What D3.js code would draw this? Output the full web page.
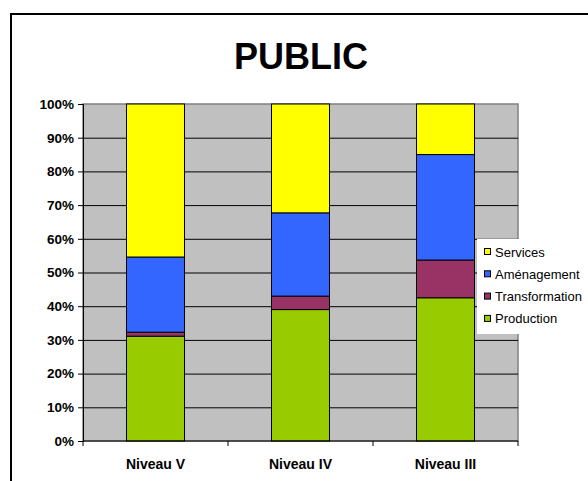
<!DOCTYPE html>
<html>
<head>
<meta charset="utf-8">
<script src="https://cdn.jsdelivr.net/npm/d3@7"></script>
<style>
  body { margin: 0; background: #fff; }
  text { font-family: "Liberation Sans", Arial, sans-serif; }
</style>
</head>
<body>
<svg id="chart" width="588" height="481"></svg>
<script>
// Data (share of each sector, in %)
const categories = ["Niveau V", "Niveau IV", "Niveau III"];
const seriesNames = ["Production", "Transformation", "Aménagement", "Services"];
const production     = [31.1, 39.0, 42.5];
const transformation = [1.2, 4.0, 11.2];
const amenagement    = [22.3, 24.7, 31.3];
const services       = [45.4, 32.3, 15.0];
const tickLabels = ["0%", "10%", "20%", "30%", "40%", "50%", "60%", "70%", "80%", "90%", "100%"];

const colors = {
  "Production": "#99cc00",
  "Transformation": "#993366",
  "Aménagement": "#3366ff",
  "Services": "#ffff00"
};

const rows = categories.map((c, i) => ({
  cat: c,
  "Production": production[i],
  "Transformation": transformation[i],
  "Aménagement": amenagement[i],
  "Services": services[i]
}));

const svg = d3.select("#chart");
const plot = { left: 83, right: 518, top: 104, bottom: 441 };

// outer chart frame (cropped on right and bottom)
svg.append("rect")
  .attr("x", 11).attr("y", 14)
  .attr("width", 600).attr("height", 500)
  .attr("fill", "#fff")
  .attr("stroke", "#000")
  .attr("stroke-width", 2);

svg.append("text")
  .attr("x", 301).attr("y", 69)
  .attr("text-anchor", "middle")
  .attr("font-size", 36)
  .attr("font-weight", "bold")
  .text("PUBLIC");

const x = d3.scaleBand()
  .domain(categories)
  .range([plot.left, plot.right])
  .paddingInner(0.6)
  .paddingOuter(0.3);

const y = d3.scaleLinear()
  .domain([0, 100])
  .range([plot.bottom, plot.top]);

// plot background
svg.append("rect")
  .attr("x", plot.left).attr("y", plot.top)
  .attr("width", plot.right - plot.left)
  .attr("height", plot.bottom - plot.top)
  .attr("fill", "#c0c0c0")
  .attr("stroke", "#808080")
  .attr("stroke-width", 1.5);

// gridlines
svg.append("g")
  .selectAll("line")
  .data(d3.range(10, 100, 10))
  .join("line")
  .attr("x1", plot.left).attr("x2", plot.right)
  .attr("y1", d => y(d) + 0.5).attr("y2", d => y(d) + 0.5)
  .attr("stroke", "#000")
  .attr("stroke-width", 1);

// stacked bars
const stack = d3.stack().keys(seriesNames);
const layers = stack(rows);

svg.append("g")
  .selectAll("g")
  .data(layers)
  .join("g")
  .attr("fill", d => colors[d.key])
  .selectAll("rect")
  .data(d => d)
  .join("rect")
  .attr("x", d => x(d.data.cat))
  .attr("width", x.bandwidth())
  .attr("y", d => y(d[1]))
  .attr("height", d => y(d[0]) - y(d[1]))
  .attr("stroke", "#000")
  .attr("stroke-width", 1);

// y axis
const yAxis = d3.axisLeft(y)
  .tickValues(d3.range(0, 101, 10))
  .tickFormat((d, i) => tickLabels[i])
  .tickSize(5)
  .tickPadding(4);

const gy = svg.append("g")
  .attr("transform", `translate(${plot.left},0)`)
  .call(yAxis);
gy.select(".domain").attr("stroke", "#000");
gy.selectAll("text")
  .attr("font-size", 13.5)
  .attr("font-weight", "bold")
  .attr("fill", "#000")
  .style("font-family", '"Liberation Sans", Arial, sans-serif');

// x axis: ticks at band boundaries
const bounds = d3.range(0, categories.length + 1).map(i => plot.left + i * (plot.right - plot.left) / categories.length);
const gx = svg.append("g");
gx.append("line")
  .attr("x1", plot.left).attr("x2", plot.right)
  .attr("y1", plot.bottom).attr("y2", plot.bottom)
  .attr("stroke", "#000");
gx.selectAll("line.tick")
  .data(bounds)
  .join("line")
  .attr("class", "tick")
  .attr("x1", d => d).attr("x2", d => d)
  .attr("y1", plot.bottom).attr("y2", plot.bottom + 5)
  .attr("stroke", "#000");
gx.selectAll("text")
  .data(categories)
  .join("text")
  .attr("x", d => x(d) + x.bandwidth() / 2)
  .attr("y", 469)
  .attr("text-anchor", "middle")
  .attr("font-size", 14)
  .attr("font-weight", "bold")
  .text(d => d);

// legend
const legend = svg.append("g");
legend.append("rect")
  .attr("x", 477).attr("y", 239)
  .attr("width", 120).attr("height", 95)
  .attr("fill", "#fff");

const legendOrder = seriesNames.slice().reverse();
const li = legend.selectAll("g.item")
  .data(legendOrder)
  .join("g")
  .attr("class", "item")
  .attr("transform", (d, i) => `translate(484,${252 + i * 22.3})`);
li.append("rect")
  .attr("x", 0.5).attr("y", -3.5)
  .attr("width", 6).attr("height", 6)
  .attr("fill", d => colors[d])
  .attr("stroke", "#000")
  .attr("stroke-width", 1);
li.append("text")
  .attr("x", 11).attr("y", 4.5)
  .attr("font-size", 13)
  .text(d => d);
</script>
</body>
</html>
